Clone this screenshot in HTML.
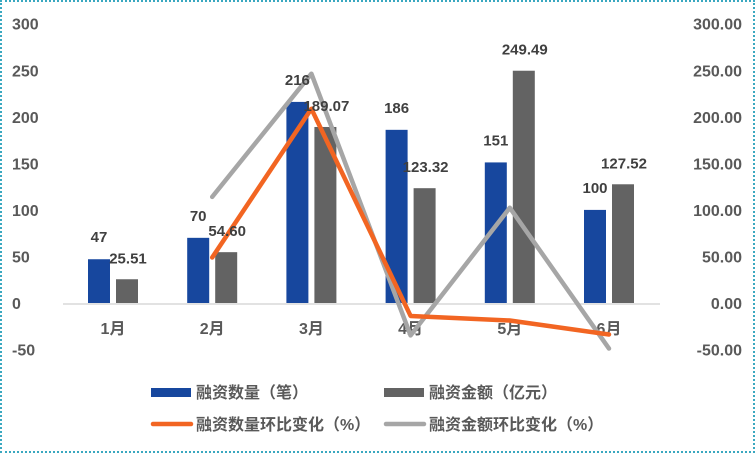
<!DOCTYPE html>
<html><head><meta charset="utf-8"><style>
body{margin:0;background:#fff;}
#wrap{position:relative;width:755px;height:453px;box-sizing:border-box;border:2px dotted #3aa8c0;overflow:hidden;}
svg text{font-family:"Liberation Sans","Noto Sans CJK SC",sans-serif;}
</style></head><body>
<div id="wrap">
<svg id="c" width="751" height="449" viewBox="2 2 751 449"></svg>
</div>
<script>
const categories=["1月","2月","3月","4月","5月","6月"];
const countValues=[47,70,216,186,151,100];
const amountValues=[25.51,54.60,189.07,123.32,249.49,127.52];
const countChange=[null,48.9,208.6,-13.9,-18.8,-33.8];
const amountChange=[null,114.0,246.3,-34.8,102.3,-48.9];
const leftTicks=[-50,0,50,100,150,200,250,300];
const rightTicks=["-50.00","0.00","50.00","100.00","150.00","200.00","250.00","300.00"];
const NS="http://www.w3.org/2000/svg";
const svg=document.getElementById('c');
const y0=303,sc=0.931;
const y=v=>y0-v*sc;
const x=i=>113+i*99.2;
function el(t,a,p){const e=document.createElementNS(NS,t);for(const k in a)e.setAttribute(k,a[k]);(p||svg).appendChild(e);return e;}
function tx(s,a){const e=el('text',a);e.textContent=s;return e;}
leftTicks.forEach((v,i)=>{
 const t=tx(String(v),{x:12,y:y(v)+6,'font-size':16,'font-weight':'bold',fill:'#595959'});
 
 
 const r=tx(rightTicks[i],{x:742,y:y(v)+6,'font-size':16,'font-weight':'bold',fill:'#595959','text-anchor':'end'});
 
 
});
const ax=el('line',{x1:63,x2:660,y1:y0+1,y2:y0+1,stroke:'#d9d9d9','stroke-width':1.5});


categories.forEach((c,i)=>{
 const cx=x(i);
 const b=el('rect',{x:cx-25,y:y(countValues[i]),width:22,height:countValues[i]*sc,fill:'#17479e'});
 
 
 const g=el('rect',{x:cx+3,y:y(amountValues[i]),width:22,height:amountValues[i]*sc,fill:'#636363'});
 
 
 const l=tx(c,{x:cx,y:334,'font-size':16,'font-weight':'bold',fill:'#595959','text-anchor':'middle'});
 
 
});
function line(vals,col,name){
 const pts=vals.map((v,i)=>v==null?null:x(i)+','+y(v)).filter(p=>p);
 const p=el('polyline',{points:pts.join(' '),fill:'none',stroke:col,'stroke-width':4.5,'stroke-linejoin':'round','stroke-linecap':'round'});
 
 
}
line(amountChange,'#a6a6a6','amount-change-line');
line(countChange,'#f26522','count-change-line');
categories.forEach((c,i)=>{
 const cx=x(i);
 const a=tx(String(countValues[i]),{x:cx-14,y:y(countValues[i])-17,'font-size':15,'font-weight':'bold',fill:'#404040','text-anchor':'middle'});
 
 
 const b=tx(amountValues[i].toFixed(2),{x:cx+15,y:y(amountValues[i])-16,'font-size':15,'font-weight':'bold',fill:'#404040','text-anchor':'middle'});
 
 
});
const legend=[
 {t:'融资数量（笔）',c:'#17479e',x:151,y:392,bar:true,n:'legend-count'},
 {t:'融资金额（亿元）',c:'#636363',x:384,y:392,bar:true,n:'legend-amount'},
 {t:'融资数量环比变化（%）',c:'#f26522',x:151,y:424,bar:false,n:'legend-count-change'},
 {t:'融资金额环比变化（%）',c:'#a6a6a6',x:384,y:424,bar:false,n:'legend-amount-change'}];
legend.forEach(L=>{
 const s=L.bar?el('rect',{x:L.x,y:L.y-4,width:40,height:9,fill:L.c}):el('line',{x1:L.x+2,x2:L.x+40,y1:L.y,y2:L.y,stroke:L.c,'stroke-width':4.5,'stroke-linecap':'round'});
 
 
 const t=tx(L.t,{x:L.x+45,y:L.y+6,'font-size':16,'font-weight':'bold',fill:'#595959'});
 
 
});
</script>
</body></html>
